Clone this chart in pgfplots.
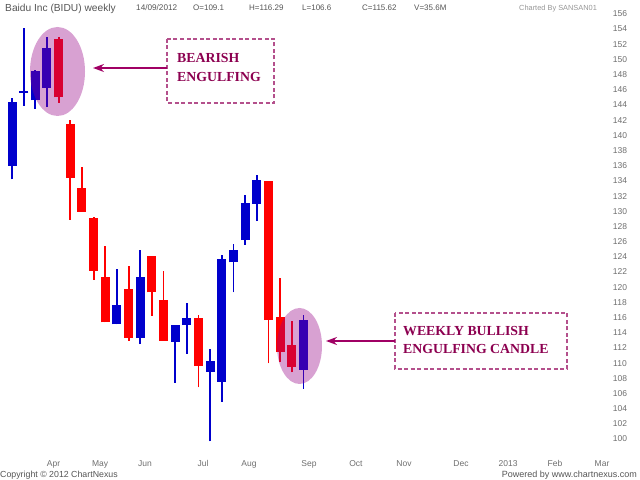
\documentclass[border=0pt]{standalone}
\usepackage{pgfplots}
\pgfplotsset{compat=1.18}
\usepackage{pgfplotstable}
\usepackage{fontspec}
\setmainfont{Liberation Sans}
\newfontfamily\serifb{Liberation Serif}
\usetikzlibrary{arrows.meta}

\definecolor{upc}{RGB}{0,0,204}
\definecolor{dnc}{RGB}{255,0,0}
\definecolor{ell}{RGB}{150,0,134}
\definecolor{annot}{RGB}{140,0,80}
\definecolor{boxc}{RGB}{180,80,140}
\definecolor{arrc}{RGB}{160,0,100}
\definecolor{hdr}{RGB}{85,85,85}
\definecolor{lbl}{RGB}{110,110,110}
\definecolor{light}{RGB}{150,150,150}

% weekly candles: index, open, high, low, close
\pgfplotstableread{
i O H L C
0 136.0 144.9 134.2 144.4
2 144.6 148.6 143.5 148.4
3 146.2 152.9 143.7 151.45
9 115.1 122.39 115.1 117.65
11 113.34 124.9 112.5 121.38
14 112.8 115.0 107.4 115.0
15 115.0 117.87 111.2 116.0
17 108.86 111.9 99.7 110.27
18 107.55 124.23 104.9 123.7
19 123.27 125.7 119.3 124.9
20 126.2 132.1 125.55 131.12
21 131.0 134.77 128.7 134.1
25 109.1 116.29 106.6 115.62
}\upcandles

\pgfplotstableread{
i O H L C
4 152.64 152.9 144.3 145.0
5 141.5 142.0 128.9 134.4
6 133.1 135.8 129.9 129.9
7 129.15 129.3 121.0 122.17
8 121.38 125.4 115.37 115.37
10 119.75 122.8 112.95 113.34
12 124.1 124.1 116.2 119.3
13 118.3 122.1 112.95 112.95
16 115.9 116.3 106.8 109.6
22 133.98 133.98 109.97 115.67
23 116.1 121.16 110.2 111.4
24 112.38 115.54 108.78 109.52
}\downcandles

\pgfplotstableread{
i O H L C
1 145.7 154.1 143.9 145.7
}\dojicandles

\begin{document}
\begin{tikzpicture}[x=1bp,y=1bp]
\useasboundingbox (0,0) rectangle (640,480);
\begin{axis}[
  at={(0,0)}, anchor=south west,
  scale only axis, width=640bp, height=480bp,
  xmin=-1.0292, xmax=53.859, ymin=94.60, ymax=157.816,
  clip=false,
  axis line style={draw=none},
  tick style={draw=none},
  ytick={100,102,...,156},
  yticklabel pos=right,
  yticklabel style={anchor=base, xshift=-20bp, yshift=-3bp, text=lbl, font=\fontsize{8.5bp}{10bp}\selectfont},
  xtick={3.56,7.55,11.41,16.38,20.33,25.47,29.50,33.62,38.51,42.54,46.57,50.60},
  xticklabels={Apr,May,Jun,Jul,Aug,Sep,Oct,Nov,Dec,2013,Feb,Mar},
  xticklabel style={anchor=base, yshift=13.8bp, text=lbl, font=\fontsize{8.5bp}{10bp}\selectfont},
  /pgf/number format/assume math mode=true,
  candle/.style={draw=none, mark=none, forget plot,
    error bars/y dir=plus, error bars/y explicit, error bars/error mark=none},
]
% wicks
\addplot[candle, error bars/error bar style={draw=upc, line width=1.8bp}]
  table[x=i, y=L, y error expr=\thisrow{H}-\thisrow{L}] {\upcandles};
\addplot[candle, error bars/error bar style={draw=upc, line width=1.8bp}]
  table[x=i, y=L, y error expr=\thisrow{H}-\thisrow{L}] {\dojicandles};
\addplot[candle, error bars/error bar style={draw=dnc, line width=1.8bp}]
  table[x=i, y=L, y error expr=\thisrow{H}-\thisrow{L}] {\downcandles};
% bodies
\addplot[candle, error bars/error bar style={draw=upc, line width=9bp}]
  table[x=i, y=O, y error expr=\thisrow{C}-\thisrow{O}] {\upcandles};
\addplot[candle, error bars/error bar style={draw=dnc, line width=9bp}]
  table[x=i, y=C, y error expr=\thisrow{O}-\thisrow{C}] {\downcandles};
\addplot[upc, only marks, mark=-, mark size=4.7bp, mark options={line width=1.8bp, draw=upc}, forget plot]
  table[x=i, y=O] {\dojicandles};
\end{axis}

% highlight ellipses
\fill[ell, fill opacity=0.37] (57.5,408.5) ellipse [x radius=27.5, y radius=44.5];
\fill[ell, fill opacity=0.37] (299.5,134) ellipse [x radius=22.5, y radius=38];

% annotation 1
\draw[boxc, line width=1.2bp, dash pattern=on 4bp off 2.5bp] (167,441) rectangle (274,377);
\node[anchor=base west, inner sep=0, text=annot, font=\serifb\bfseries\fontsize{13.8bp}{16bp}\selectfont] at (177,417.3) {BEARISH};
\node[anchor=base west, inner sep=0, text=annot, font=\serifb\bfseries\fontsize{13.8bp}{16bp}\selectfont] at (177,398.3) {ENGULFING};
\draw[arrc, line width=1.5bp, -{Stealth[length=11bp, width=8bp]}] (167,412) -- (93,412);

% annotation 2
\draw[boxc, line width=1.2bp, dash pattern=on 4bp off 2.5bp] (395,167) rectangle (567,111);
\node[anchor=base west, inner sep=0, text=annot, font=\serifb\bfseries\fontsize{13.8bp}{16bp}\selectfont] at (403,144.3) {WEEKLY BULLISH};
\node[anchor=base west, inner sep=0, text=annot, font=\serifb\bfseries\fontsize{13.8bp}{16bp}\selectfont] at (403,126.3) {ENGULFING CANDLE};
\draw[arrc, line width=1.5bp, -{Stealth[length=11bp, width=8bp]}] (395,139) -- (326,139);

% header
\node[anchor=base west, inner sep=0, text=hdr, font=\fontsize{10.2bp}{12bp}\selectfont] at (5,468.4) {Baidu Inc (BIDU) weekly};
\node[anchor=base west, inner sep=0, text=hdr, font=\fontsize{8.2bp}{10bp}\selectfont] at (136,469.1) {14/09/2012};
\node[anchor=base west, inner sep=0, text=hdr, font=\fontsize{8bp}{10bp}\selectfont] at (193,469.1) {O=109.1};
\node[anchor=base west, inner sep=0, text=hdr, font=\fontsize{8bp}{10bp}\selectfont] at (249,469.1) {H=116.29};
\node[anchor=base west, inner sep=0, text=hdr, font=\fontsize{8bp}{10bp}\selectfont] at (302,469.1) {L=106.6};
\node[anchor=base west, inner sep=0, text=hdr, font=\fontsize{8bp}{10bp}\selectfont] at (362,469.1) {C=115.62};
\node[anchor=base west, inner sep=0, text=hdr, font=\fontsize{8bp}{10bp}\selectfont] at (414,469.1) {V=35.6M};
\node[anchor=base west, inner sep=0, text=light, font=\fontsize{7.4bp}{9bp}\selectfont] at (519,469.1) {Charted By SANSAN01};

% footer
\node[anchor=base west, inner sep=0, text=hdr, font=\fontsize{8.8bp}{10bp}\selectfont] at (0,2.8) {Copyright © 2012 ChartNexus};
\node[anchor=base east, inner sep=0, text=hdr, font=\fontsize{9bp}{10bp}\selectfont] at (637,2.8) {Powered by www.chartnexus.com};
\end{tikzpicture}
\end{document}
